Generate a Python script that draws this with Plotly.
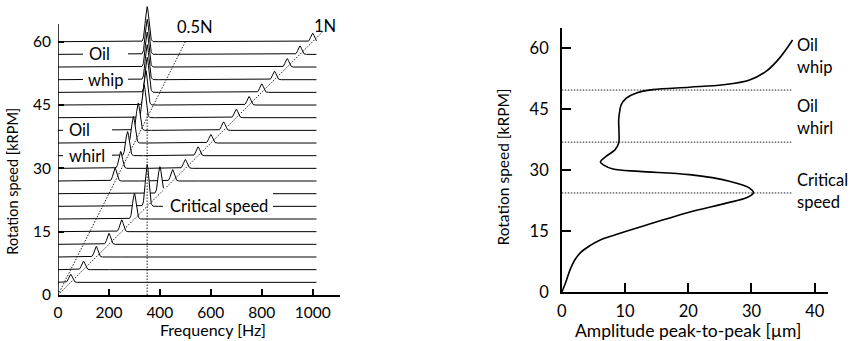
import numpy as np
import plotly.graph_objects as go

# ---------------- data ----------------
# Left panel: waterfall of spectra, one baseline per rotation speed
speeds_krpm = [3, 6, 9, 12, 15, 18, 21, 24, 27, 30, 33, 36, 39, 42, 45, 48, 51, 54, 57, 60]
# synchronous (1N) peak amplitude, in display units (kRPM offsets)
amp_1n = [1.9, 2.0, 2.5, 2.6, 2.8, 6.1, 9.9, 6.4, 2.7, 2.1, 2.1, 2.0, 2.0, 2.0, 2.0, 2.0, 2.0, 2.0, 2.0, 2.0]
# subsynchronous (oil whirl / whip) peak frequency [Hz] and amplitude (0 = none)
sub_freq_hz = [0, 0, 0, 0, 0, 0, 0, 0, 224, 246, 273, 296, 315, 338, 345, 350, 350, 350, 350, 350]
sub_amp = [0, 0, 0, 0, 0, 0, 0, 0, 3.1, 4.0, 5.7, 6.3, 6.5, 7.8, 8.2, 8.3, 8.3, 8.3, 8.3, 8.3]
spectrum_max_hz = 1015
order_multipliers = [0.5, 1.0]
order_labels = ["0.5N", "1N"]
order_top_krpm = [60.0, 62.4]
critical_freq_hz = 350
critical_line_top_krpm = 43.0

# Right panel: amplitude vs rotation speed
rpm_curve = [0, 2.3, 5.5, 7.8, 9.8, 11.5, 12.8, 14.2, 17, 19.5, 21.9, 23.2, 24.4, 25.6, 27.3, 28.9,
             29.7, 30.3, 31.2, 32.0, 33.4, 35.0, 36.7, 39.1, 42.4, 44.9, 46.1, 47.7, 49.0, 49.8,
             50.4, 51.0, 52.2, 54.3, 57.5, 62.0]
amp_curve = [0, 0.6, 1.3, 2.0, 3.0, 4.5, 6.0, 8.6, 14.4, 19.7, 26.0, 29.2, 30.3, 29.7, 26.5, 20.2,
             12.3, 8.1, 6.7, 6.1, 7.0, 8.4, 9.0, 9.05, 9.0, 9.2, 9.4, 10.2, 11.8, 14.4,
             20.2, 25.5, 29.7, 32.3, 34.4, 36.5]
regime_limits_krpm = [24.4, 36.9, 49.7]
regime_line_end_um = 36.3
regime_labels = [("Critical", "speed"), ("Oil", "whirl"), ("Oil", "whip")]
regime_label_centers = [24.8, 43.1, 58.15]

left_title_x, left_title_y = "Frequency [Hz]", "Rotation speed [kRPM]"
right_title_x, right_title_y = "Amplitude peak-to-peak [µm]", "Rotation speed [kRPM]"

# ---------------- styling / layout geometry (pixels) ----------------
FONT = "Lato"
FS_TICK_L = 15.5
FS_TICK_R = 16.5
FS_TEXT = 16.5
PEAK_SIGMA_HZ = 7.0
W, H = 850, 341
L, R, T, B = 58, 850 - 828.3, 3, 341 - 295.5
PW, PH = W - L - R, H - T - B

def dx(p0, p1):
    return [(p0 - L) / PW, (p1 - L) / PW]

def dy(top_px, bot_px):
    return [(H - B - bot_px) / PH, (H - B - top_px) / PH]

def px_x(p):
    return (p - L) / PW

def px_y(p):
    return (H - B - p) / PH

fig = go.Figure()

freq = np.arange(0, spectrum_max_hz + 1, 1.0)
rows = list(zip(speeds_krpm, amp_1n, sub_freq_hz, sub_amp))
# draw back (top) rows first so front rows hide them
for r, a1, fs, asub in reversed(rows):
    f1 = r * 1000.0 / 60.0
    spec = a1 * np.exp(-0.5 * ((freq - f1) / PEAK_SIGMA_HZ) ** 2)
    if asub > 0:
        spec = spec + asub * np.exp(-0.5 * ((freq - fs) / PEAK_SIGMA_HZ) ** 2)
    fig.add_trace(go.Scatter(
        x=freq, y=r + spec, mode="lines",
        line=dict(color="black", width=1),
        fill="tozeroy", fillcolor="white",
        xaxis="x", yaxis="y", hoverinfo="skip", showlegend=False))

dot = dict(color="#222222", width=1, dash="1.5px,1.5px")
for m, top in zip(order_multipliers, order_top_krpm):
    rr = np.array([0.0, top])
    fig.add_trace(go.Scatter(x=m * rr * 1000.0 / 60.0, y=rr, mode="lines", line=dot,
                             xaxis="x", yaxis="y", hoverinfo="skip", showlegend=False))
fig.add_trace(go.Scatter(x=[critical_freq_hz, critical_freq_hz], y=[0, critical_line_top_krpm],
                         mode="lines", line=dot, xaxis="x", yaxis="y",
                         hoverinfo="skip", showlegend=False))

# right panel
for lim in regime_limits_krpm:
    fig.add_trace(go.Scatter(x=[0, regime_line_end_um], y=[lim, lim], mode="lines", line=dot,
                             xaxis="x2", yaxis="y2", hoverinfo="skip", showlegend=False))
fig.add_trace(go.Scatter(x=amp_curve, y=rpm_curve, mode="lines",
                         line=dict(color="black", width=1.6, shape="spline", smoothing=1.0),
                         xaxis="x2", yaxis="y2", hoverinfo="skip", showlegend=False))

# ---------------- label boxes (white backgrounds hiding baselines) ----------------
LEFT_Y_TOP = 64.2
shapes = [dict(type="line", xref="x", yref="y", x0=0, x1=0, y0=0, y1=LEFT_Y_TOP,
               line=dict(color="black", width=1.5), layer="above")]
def box(x0, x1, y0, y1):
    shapes.append(dict(type="rect", xref="x", yref="y", x0=x0, x1=x1, y0=y0, y1=y1,
                       fillcolor="white", line=dict(width=0), layer="above"))
box(98, 275, 56.0, 58.0)     # "Oil" (whip)
box(98, 275, 50.0, 52.0)     # "whip"
box(20, 212, 38.0, 40.0)     # "Oil" (whirl)
box(20, 212, 32.0, 34.0)     # "whirl"
box(412, 844, 20.2, 25.3)    # "Critical speed"

tf = dict(family=FONT, size=FS_TEXT, color="black")
ann = []
def lab(text, x, y, xref="x", yref="y", xanchor="left"):
    ann.append(dict(text=text, x=x, y=y, xref=xref, yref=yref, xanchor=xanchor,
                    yanchor="middle", showarrow=False, font=tf))
lab("Oil", 114, 57)
lab("whip", 110, 51)
lab("Oil", 35, 39)
lab("whirl", 35, 33)
lab("Critical speed", 433, 21.2)
lab(order_labels[0], 537, 63.4, xanchor="center")
lab(order_labels[1], 1048, 63.8, xanchor="center")
# right-hand regime labels (paper coords so they are not clipped)
def ypx_right(v):
    return 292.7 - v * (292.7 - 28.3) / 64.9
for (l1, l2), c in zip(regime_labels, regime_label_centers):
    for txt, v in ((l1, c + 2.7), (l2, c - 2.7)):
        ann.append(dict(text=txt, x=px_x(795), y=px_y(ypx_right(v)), xref="paper", yref="paper",
                        xanchor="left", yanchor="middle", showarrow=False, font=tf))
# axis titles
def title(text, xp, yp, size, angle=0):
    ann.append(dict(text=text, x=px_x(xp), y=px_y(yp), xref="paper", yref="paper",
                    xanchor="center", yanchor="middle", textangle=angle,
                    showarrow=False, font=dict(family=FONT, size=size, color="black")))
title(left_title_x, 213, 330, 16)
title(left_title_y, 13, 182, 14.5, angle=-90)
title(right_title_x, 688, 331.5, 17.5)
title(right_title_y, 503, 167, 15.5, angle=-90)

axis_common = dict(linecolor="black", linewidth=1.5, ticks="inside",
                   tickcolor="black", tickwidth=1.5, showgrid=False, zeroline=False,
                   automargin=False)
tickL = dict(family=FONT, size=FS_TICK_L, color="black")
tickR = dict(family=FONT, size=FS_TICK_R, color="black")

fig.update_layout(
    width=W, height=H, margin=dict(l=L, r=R, t=T, b=B, pad=0),
    paper_bgcolor="white", plot_bgcolor="white", showlegend=False,
    font=tf, shapes=shapes, annotations=ann,
    xaxis=dict(axis_common, showline=True, domain=dx(58, 340), range=[0, 1107],
               tickvals=[0, 200, 400, 600, 800, 1000], ticklen=6, anchor="y",
               ticklabelstandoff=3, tickfont=tickL),
    yaxis=dict(axis_common, showline=False, domain=dy(3, 295.5),
               range=[0, (295.5 - 3) / ((295.5 - 24) / LEFT_Y_TOP)],
               tickvals=[0, 15, 30, 45, 60], ticklen=6, anchor="x",
               ticklabelstandoff=6, tickfont=tickL),
    xaxis2=dict(axis_common, showline=True, domain=dx(562, 828.3), range=[0, 42.1],
                tickvals=[0, 10, 20, 30, 40], ticklen=9, anchor="y2",
                ticklabelstandoff=3, tickfont=tickR),
    yaxis2=dict(axis_common, showline=True, domain=dy(28.3, 292.7), range=[0, 64.9],
                tickvals=[0, 15, 30, 45, 60], ticklen=9, anchor="x2",
                ticklabelstandoff=8, tickfont=tickR),
)

fig.write_html("out.html", config={"displayModeBar": False},
               post_script="document.body.style.margin='0px';")
